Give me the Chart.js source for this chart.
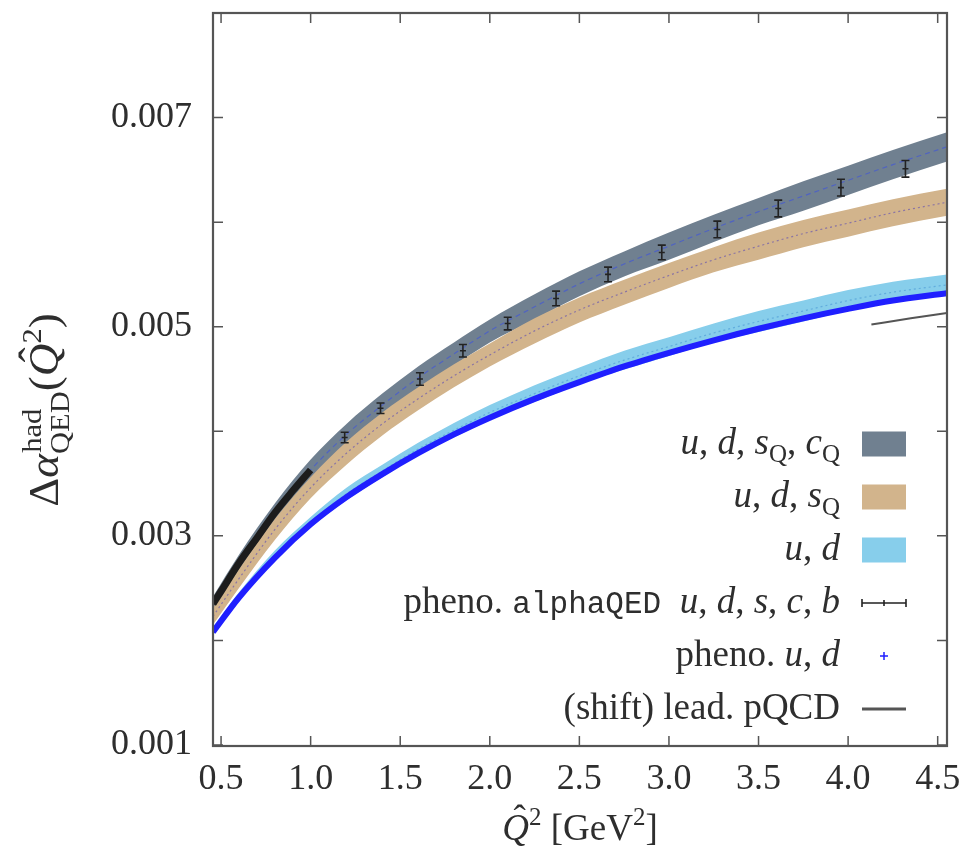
<!DOCTYPE html>
<html>
<head>
<meta charset="utf-8">
<script src="https://cdn.jsdelivr.net/npm/chart.js@4.4.0/dist/chart.umd.min.js"></script>
<style>
  html, body { margin: 0; padding: 0; background: #fff; }
  canvas { display: block; }
</style>
</head>
<body>
<canvas id="chart" width="971" height="853"></canvas>
<script>
// Q^2 grid in GeV^2 shared by the lattice bands
const q2 = [0.455, 0.6, 0.8, 1.0, 1.2, 1.4, 1.6, 1.8, 2.0, 2.25, 2.5, 2.75, 3.0, 3.25, 3.5, 3.75, 4.0, 4.25, 4.552];

// u,d,s_Q,c_Q band
const udscMid = [0.00235, 0.00274, 0.00322, 0.00363, 0.00397, 0.00425, 0.00451, 0.00474, 0.00496, 0.00519, 0.00541, 0.00560, 0.00577, 0.00594, 0.00610, 0.00625, 0.00640, 0.00655, 0.00672];
const udscErr = [0.00007, 0.00008, 0.00009, 0.0001, 0.0001, 0.00011, 0.00011, 0.00011, 0.00011, 0.00012, 0.00012, 0.00012, 0.00013, 0.00013, 0.00013, 0.00014, 0.00014, 0.00014, 0.00014];

// u,d,s_Q band
const udsMid = [0.00223, 0.00259, 0.00306, 0.00346, 0.00379, 0.00407, 0.00431, 0.00453, 0.00473, 0.00496, 0.00516, 0.00533, 0.00549, 0.00564, 0.00577, 0.00589, 0.00599, 0.00609, 0.00619];
const udsErr = [0.00008, 0.00009, 0.0001, 0.0001, 0.00011, 0.00011, 0.00011, 0.00011, 0.00011, 0.00012, 0.00012, 0.00012, 0.00012, 0.00012, 0.00013, 0.00013, 0.00013, 0.00013, 0.00013];

// u,d band
const udMid = [0.00209, 0.00242, 0.00281, 0.00313, 0.00340, 0.00362, 0.00383, 0.00401, 0.00418, 0.00436, 0.00453, 0.00468, 0.00481, 0.00494, 0.00505, 0.00515, 0.00525, 0.00533, 0.00540];
const udErr = [0.00004, 0.00004, 0.00005, 0.00005, 0.00006, 0.00006, 0.00006, 0.00007, 0.00007, 0.00008, 0.00008, 0.00009, 0.00009, 0.00009, 0.0001, 0.0001, 0.0001, 0.0001, 0.0001];

// pheno. u,d (dense points, drawn as a thick line)
const phenoUd = [0.00208, 0.00241, 0.00279, 0.00311, 0.00337, 0.00359, 0.00379, 0.00397, 0.00413, 0.00431, 0.00447, 0.00462, 0.00475, 0.00487, 0.00498, 0.00508, 0.00517, 0.00525, 0.00532];

// pheno. alphaQED u,d,s,c,b: dense below 1 GeV^2, then single points with errors
const alphaLowQ2 = [0.455, 0.5, 0.6, 0.7, 0.8, 0.9, 1.0];
const alphaLow = [0.00235, 0.00247, 0.00274, 0.00298, 0.00322, 0.00343, 0.00363];
const alphaQ2 = [1.19, 1.39, 1.61, 1.85, 2.10, 2.37, 2.66, 2.96, 3.27, 3.61, 3.96, 4.32];
const alphaVal = [0.00394, 0.00422, 0.00450, 0.00477, 0.00503, 0.00527, 0.00550, 0.00571, 0.00593, 0.00613, 0.00633, 0.00651];
const alphaErr = [0.00005, 0.00005, 0.00006, 0.00006, 0.00006, 0.00007, 0.00007, 0.00007, 0.00008, 0.00008, 0.00008, 0.00008];

// (shift) leading pQCD
const pqcdQ2 = [4.13, 4.35, 4.552];
const pqcdVal = [0.00502, 0.00508, 0.00513];

const xTicks = [0.5, 1.0, 1.5, 2.0, 2.5, 3.0, 3.5, 4.0, 4.5];
const yTicks = [0.001, 0.002, 0.003, 0.004, 0.005, 0.006, 0.007, 0.008];

const SERIF = '"Liberation Serif", "Times New Roman", serif';
const MONO = '"Liberation Mono", "DejaVu Sans Mono", monospace';
const INK = '#2e2e2e';
const FRAME = '#555555';

const STYLE = {
  r: { font: '37px ' + SERIF, dy: 0 },
  i: { font: 'italic 37px ' + SERIF, dy: 0 },
  ihat: { font: 'italic 37px ' + SERIF, dy: 0 },
  sub: { font: '25px ' + SERIF, dy: 8 },
  sup: { font: '25px ' + SERIF, dy: -15 },
  tt: { font: '31px ' + MONO, dy: 0 }
};

const pts = (xs, ys) => xs.map((x, i) => ({ x: x, y: ys[i] }));
const shifted = (mid, err, sign) => mid.map((v, i) => v + sign * err[i]);

function band(label, mid, err, color, order) {
  return [
    { label: label + ' low', data: pts(q2, shifted(mid, err, -1)), borderColor: 'rgba(0,0,0,0)', borderWidth: 0, pointRadius: 0, fill: false, order: order },
    { label: label, data: pts(q2, shifted(mid, err, 1)), borderColor: 'rgba(0,0,0,0)', borderWidth: 0, pointRadius: 0, fill: '-1', backgroundColor: color, order: order }
  ];
}

function centreLine(mid, color, dash, order) {
  return { label: 'centre', data: pts(q2, mid), borderColor: color, borderWidth: 1.2, borderDash: dash, pointRadius: 0, fill: false, order: order };
}

// --- rich text helpers (sub/superscripts, italics) ---
function partWidth(ctx, p) {
  if (p.stack) {
    ctx.font = STYLE.sup.font;
    const a = ctx.measureText(p.stack[0]).width;
    ctx.font = STYLE.sub.font;
    const b = ctx.measureText(p.stack[1]).width;
    return Math.max(a, b);
  }
  ctx.font = STYLE[p[1]].font;
  return ctx.measureText(p[0]).width;
}

function drawParts(ctx, parts, x, y, align) {
  const widths = parts.map(p => partWidth(ctx, p));
  const total = widths.reduce((a, b) => a + b, 0);
  let cx = align === 'right' ? x - total : align === 'center' ? x - total / 2 : x;
  ctx.textAlign = 'left';
  ctx.textBaseline = 'alphabetic';
  parts.forEach((p, i) => {
    if (p.stack) {
      ctx.font = STYLE.sup.font;
      ctx.fillText(p.stack[0], cx + 1, y + STYLE.sup.dy);
      ctx.font = STYLE.sub.font;
      ctx.fillText(p.stack[1], cx, y + STYLE.sub.dy + 2);
    } else {
      const st = STYLE[p[1]];
      ctx.font = st.font;
      ctx.fillText(p[0], cx, y + st.dy);
      if (p[1] === 'ihat') {
        ctx.font = STYLE.r.font;
        ctx.textAlign = 'center';
        ctx.fillText('\u02c6', cx + widths[i] / 2 + 4, y - 9);
        ctx.textAlign = 'left';
      }
    }
    cx += widths[i];
  });
}

// frame with inward ticks on all four sides
const frameTicks = {
  id: 'frameTicks',
  afterDraw(chart) {
    const { ctx, chartArea: a, scales } = chart;
    const len = 10;
    ctx.save();
    ctx.strokeStyle = FRAME;
    ctx.lineWidth = 1.5;
    ctx.beginPath();
    scales.x.ticks.forEach(t => {
      const px = scales.x.getPixelForValue(t.value);
      ctx.moveTo(px, a.bottom); ctx.lineTo(px, a.bottom - len);
      ctx.moveTo(px, a.top); ctx.lineTo(px, a.top + len);
    });
    scales.y.ticks.forEach(t => {
      const py = scales.y.getPixelForValue(t.value);
      ctx.moveTo(a.left, py); ctx.lineTo(a.left + len, py);
      ctx.moveTo(a.right, py); ctx.lineTo(a.right - len, py);
    });
    ctx.stroke();
    ctx.lineWidth = 2.2;
    ctx.strokeRect(a.left, a.top, a.right - a.left, a.bottom - a.top);
    ctx.restore();
  }
};

// vertical error bars for datasets carrying an errorBars array
const errorBars = {
  id: 'errorBars',
  afterDatasetsDraw(chart) {
    const { ctx, scales } = chart;
    ctx.save();
    chart.data.datasets.forEach(ds => {
      if (!ds.errorBars) return;
      ctx.strokeStyle = ds.borderColor;
      ctx.lineWidth = 1.6;
      ctx.beginPath();
      ds.data.forEach((p, i) => {
        const px = scales.x.getPixelForValue(p.x);
        const lo = scales.y.getPixelForValue(p.y - ds.errorBars[i]);
        const hi = scales.y.getPixelForValue(p.y + ds.errorBars[i]);
        const mid = scales.y.getPixelForValue(p.y);
        ctx.moveTo(px, lo); ctx.lineTo(px, hi);
        ctx.moveTo(px - 4, lo); ctx.lineTo(px + 4, lo);
        ctx.moveTo(px - 4, hi); ctx.lineTo(px + 4, hi);
        ctx.moveTo(px - 3, mid); ctx.lineTo(px + 3, mid);
      });
      ctx.stroke();
    });
    ctx.restore();
  }
};

// legend rows: dataset label, sample kind, rich text
const legendRows = [
  { ds: 'udsc', kind: 'box', parts: [['u', 'i'], [', ', 'r'], ['d', 'i'], [', ', 'r'], ['s', 'i'], ['Q', 'sub'], [', ', 'r'], ['c', 'i'], ['Q', 'sub']] },
  { ds: 'uds', kind: 'box', parts: [['u', 'i'], [', ', 'r'], ['d', 'i'], [', ', 'r'], ['s', 'i'], ['Q', 'sub']] },
  { ds: 'ud', kind: 'box', parts: [['u', 'i'], [', ', 'r'], ['d', 'i']] },
  { ds: 'alphaQED', kind: 'errbar', parts: [['pheno. ', 'r'], ['alphaQED', 'tt'], ['  ', 'r'], ['u', 'i'], [', ', 'r'], ['d', 'i'], [', ', 'r'], ['s', 'i'], [', ', 'r'], ['c', 'i'], [', ', 'r'], ['b', 'i']] },
  { ds: 'pheno ud', kind: 'plus', parts: [['pheno. ', 'r'], ['u', 'i'], [', ', 'r'], ['d', 'i']] },
  { ds: 'pqcd', kind: 'line', parts: [['(shift) lead. pQCD', 'r']] }
];

const richLegend = {
  id: 'richLegend',
  afterDraw(chart) {
    const ctx = chart.ctx;
    const textRight = 840, sx0 = 862, sx1 = 906;
    ctx.save();
    legendRows.forEach((row, k) => {
      const y = 444 + k * 53;
      const ds = chart.data.datasets.find(d => d.label === row.ds);
      ctx.fillStyle = INK;
      drawParts(ctx, row.parts, textRight, y + 10, 'right');
      if (row.kind === 'box') {
        ctx.fillStyle = ds.backgroundColor;
        ctx.fillRect(sx0, y - 12.5, sx1 - sx0, 25);
      } else if (row.kind === 'errbar') {
        ctx.strokeStyle = ds.borderColor;
        ctx.lineWidth = 1.6;
        ctx.beginPath();
        ctx.moveTo(sx0, y); ctx.lineTo(sx1, y);
        ctx.moveTo(sx0, y - 4); ctx.lineTo(sx0, y + 4);
        ctx.moveTo(sx1, y - 4); ctx.lineTo(sx1, y + 4);
        ctx.moveTo((sx0 + sx1) / 2, y - 3); ctx.lineTo((sx0 + sx1) / 2, y + 3);
        ctx.stroke();
      } else if (row.kind === 'plus') {
        const cx = (sx0 + sx1) / 2;
        ctx.strokeStyle = ds.borderColor;
        ctx.lineWidth = 1.5;
        ctx.beginPath();
        ctx.moveTo(cx - 4, y); ctx.lineTo(cx + 4, y);
        ctx.moveTo(cx, y - 4); ctx.lineTo(cx, y + 4);
        ctx.stroke();
      } else {
        ctx.strokeStyle = ds.borderColor;
        ctx.lineWidth = 3;
        ctx.beginPath();
        ctx.moveTo(sx0, y); ctx.lineTo(sx1, y);
        ctx.stroke();
      }
    });
    ctx.restore();
  }
};

// axis titles with hats, sub- and superscripts
const axisTitles = {
  id: 'axisTitles',
  afterDraw(chart) {
    const ctx = chart.ctx;
    const a = chart.chartArea;
    ctx.save();
    ctx.fillStyle = INK;
    drawParts(ctx, [['Q', 'ihat'], ['2', 'sup'], [' [GeV', 'r'], ['2', 'sup'], [']', 'r']], (a.left + a.right) / 2, 840, 'center');
    ctx.translate(58, 410);
    ctx.rotate(-Math.PI / 2);
    ctx.scale(1.22, 1.12);
    drawParts(ctx, [['\u0394', 'r'], ['\u03b1', 'i'], { stack: ['had', 'QED'] }, ['(', 'r'], ['Q', 'ihat'], ['2', 'sup'], [')', 'r']], 0, 0, 'center');
    ctx.restore();
  }
};

const datasets = [
  ...band('udsc', udscMid, udscErr, '#708090', 20),
  centreLine(udscMid, 'rgba(70,90,210,0.75)', [5, 4], 19),
  ...band('uds', udsMid, udsErr, '#d2b48c', 18),
  centreLine(udsMid, 'rgba(120,100,170,0.8)', [2, 3], 17),
  ...band('ud', udMid, udErr, '#87ceeb', 16),
  centreLine(udMid, 'rgba(60,140,210,0.5)', [2, 3], 15),
  { label: 'pheno ud', data: pts(q2, phenoUd), borderColor: '#1f1fff', borderWidth: 6, pointRadius: 0, fill: false, order: 14 },
  { label: 'alphaQED low', data: pts(alphaLowQ2, alphaLow), borderColor: '#1c1c1c', borderWidth: 7, pointRadius: 0, fill: false, order: 13 },
  { label: 'pqcd', data: pts(pqcdQ2, pqcdVal), borderColor: '#555555', borderWidth: 2, pointRadius: 0, fill: false, order: 12 },
  { label: 'alphaQED', data: pts(alphaQ2, alphaVal), errorBars: alphaErr, borderColor: '#222222', showLine: false, pointRadius: 0, order: 11 }
];

datasets.forEach(ds => {
  ds.cubicInterpolationMode = 'monotone';
  ds.clip = 0;
});

new Chart(document.getElementById('chart'), {
  type: 'line',
  data: { datasets: datasets },
  options: {
    responsive: false,
    animation: false,
    devicePixelRatio: 1,
    layout: { padding: { top: 13, right: 24, bottom: 0, left: 0 } },
    plugins: {
      legend: { display: false },
      tooltip: { enabled: false }
    },
    scales: {
      x: {
        type: 'linear',
        min: 0.455,
        max: 4.552,
        afterBuildTicks: s => { s.ticks = xTicks.map(v => ({ value: v })); },
        afterFit: s => { s.height = 107; s.paddingLeft = 0; s.paddingRight = 0; },
        grid: { display: false, drawTicks: false },
        border: { display: false },
        ticks: {
          padding: 12,
          color: INK,
          font: { family: SERIF, size: 36 },
          maxRotation: 0,
          autoSkip: false,
          callback: v => v.toFixed(1)
        }
      },
      y: {
        type: 'linear',
        min: 0.00099,
        max: 0.008,
        afterBuildTicks: s => { s.ticks = yTicks.map(v => ({ value: v })); },
        afterFit: s => { s.width = 213; s.paddingTop = 0; s.paddingBottom = 0; },
        grid: { display: false, drawTicks: false },
        border: { display: false },
        ticks: {
          padding: 21,
          color: INK,
          font: { family: SERIF, size: 36 },
          autoSkip: false,
          callback: v => (Math.round(v * 1000) % 2 === 1 ? v.toFixed(3) : '')
        }
      }
    }
  },
  plugins: [errorBars, frameTicks, richLegend, axisTitles]
});
</script>
</body>
</html>
